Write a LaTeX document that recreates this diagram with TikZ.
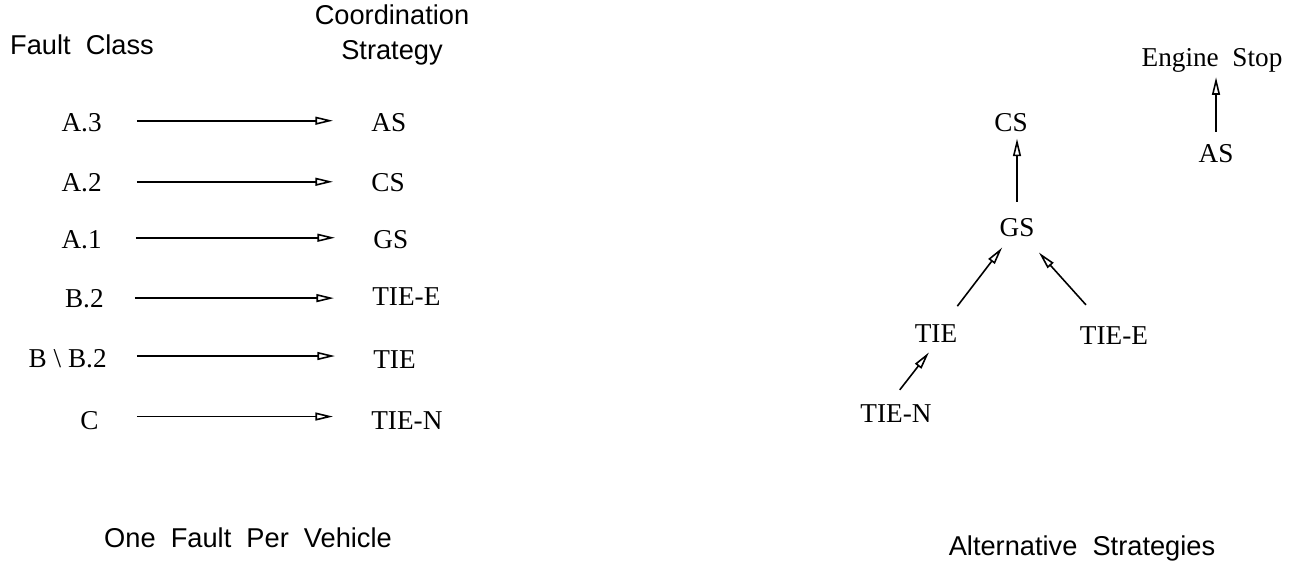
\documentclass[tikz,border=0pt]{standalone}
\usepackage{fontspec}
\setmainfont{Liberation Serif}
\setsansfont{Liberation Sans}
\usetikzlibrary{arrows.meta}

\begin{document}
\begin{tikzpicture}[x=0.02cm,y=-0.02cm]
       \tikzstyle{lbl} = [inner sep=0pt, font=\fontsize{15.5}{18}\selectfont];
       \tikzstyle{head} = [inner sep=0pt, font=\fontsize{15.5}{18}\selectfont\sffamily];
       \tikzstyle{arr} = [-{Triangle[open,length=10pt,width=4.5pt]}, line width=0.9pt];
       \tikzstyle{maps} = [arr, shorten <=0.7cm, shorten >=0.76cm];
       \useasboundingbox (0,0) rectangle (1301,563);

       % one fault per vehicle
       \node[head, anchor=base] (faultclass) at (82,55) {Fault~~Class};
       \node[head, anchor=base] (coord) at (392,25) {Coordination};
       \node[head, anchor=base] (strategy) at (392,60) {Strategy};

       \node[lbl, anchor=base east] (a3) at (102,132) {A.3};
       \node[lbl, anchor=base east] (a2) at (102,192) {A.2};
       \node[lbl, anchor=base east] (a1) at (102,249) {A.1};
       \node[lbl, anchor=base east] (b2) at (104,308) {B.2};
       \node[lbl, anchor=base east] (bminus) at (107,368) {B \textbackslash\ B.2};
       \node[lbl, anchor=base east] (c) at (99,430) {C};

       \node[lbl, anchor=base west] (as) at (371,132) {AS};
       \node[lbl, anchor=base west] (cs) at (371,192) {CS};
       \node[lbl, anchor=base west] (gs) at (373,249) {GS};
       \node[lbl, anchor=base west] (tiee) at (372,306) {TIE-E};
       \node[lbl, anchor=base west] (tie) at (373,369) {TIE};
       \node[lbl, anchor=base west] (tien) at (371,430) {TIE-N};

       \draw[maps] ([yshift=1.4pt]a3.east) -- ([yshift=1.4pt]a3.east -| as.west);
       \draw[maps] ([yshift=0.8pt]a2.east) -- ([yshift=0.8pt]a2.east -| cs.west);
       \draw[maps, shorten <=0.68cm] ([yshift=1.4pt]a1.east) -- ([yshift=1.4pt]a1.east -| gs.west);
       \draw[maps, shorten <=0.62cm] ([yshift=0.6pt]b2.east) -- ([yshift=0.6pt]b2.east -| tiee.west);
       \draw[maps, shorten <=0.6cm] ([yshift=1.8pt]bminus.east) -- ([yshift=1.8pt]bminus.east -| tie.west);
       \draw[maps, shorten <=0.76cm] ([yshift=2.6pt]c.east) -- ([yshift=2.6pt]c.east -| tien.west);

       \node[head, anchor=base] (onefault) at (248,547) {One~~Fault~~Per~~Vehicle};

       % alternative strategies
       \node[lbl, anchor=base] (enginestop) at (1212,67) {Engine~~Stop};
       \node[lbl, anchor=base] (alt-as) at (1216,163) {AS};
       \node[lbl, anchor=base] (alt-cs) at (1011,132) {CS};
       \node[lbl, anchor=base] (alt-gs) at (1017,237) {GS};
       \node[lbl, anchor=base] (alt-tie) at (936,343) {TIE};
       \node[lbl, anchor=base] (alt-tiee) at (1114,345) {TIE-E};
       \node[lbl, anchor=base] (alt-tien) at (896,423) {TIE-N};

       \draw[arr, shorten <=0.26cm, shorten >=0.08cm] (alt-as.north) -- (alt-as.north |- enginestop.south);
       \draw[arr, shorten <=0.34cm, shorten >=0.12cm] (alt-gs.north) -- (alt-gs.north |- alt-cs.south);
       \draw[arr, shorten <=0.47cm, shorten >=0.25cm] (alt-tie) -- (alt-gs);
       \draw[arr, shorten <=0.59cm, shorten >=0.4cm] (alt-tiee) -- (alt-gs);
       \draw[arr, shorten <=0.38cm, shorten >=0.23cm] ([xshift=-4.5pt]alt-tien.north) -- (alt-tie.south);

       \node[head, anchor=base] (alternative) at (1082,555) {Alternative~~Strategies};
\end{tikzpicture}
\end{document}
